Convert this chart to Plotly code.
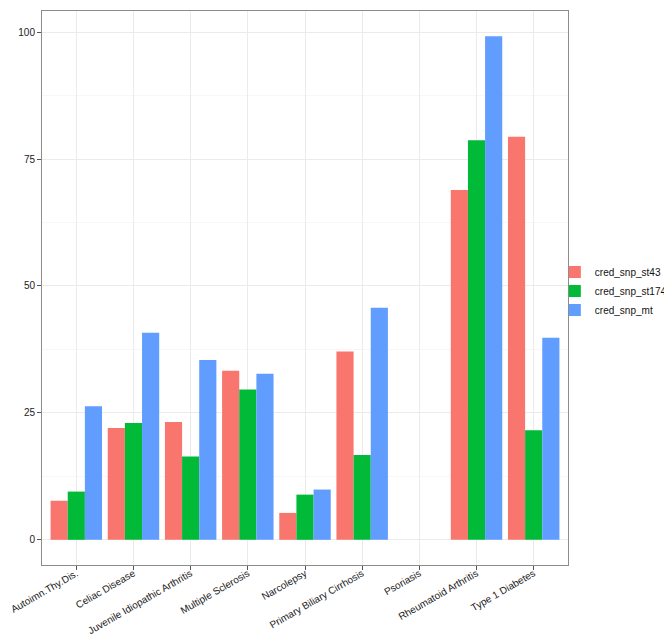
import plotly.graph_objects as go

categories = ["Autoimn.Thy.Dis.", "Celiac Disease", "Juvenile Idiopathic Arthritis",
              "Multiple Sclerosis", "Narcolepsy", "Primary Biliary Cirrhosis",
              "Psoriasis", "Rheumatoid Arthritis", "Type 1 Diabetes"]
cred_snp_st43 = [7.7, 22.0, 23.2, 33.3, 5.3, 37.1, 0, 68.9, 79.4]
cred_snp_st174 = [9.5, 23.0, 16.4, 29.6, 8.9, 16.7, 0, 78.7, 21.6]
cred_snp_mt = [26.3, 40.8, 35.4, 32.7, 9.9, 45.7, 0, 99.2, 39.8]
series_names = ["cred_snp_st43", "cred_snp_st174", "cred_snp_mt"]
series_colors = ["#F8766D", "#00BA38", "#619CFF"]
y_ticks = [0, 25, 50, 75, 100]

fig = go.Figure()
for name, vals, col in zip(series_names, [cred_snp_st43, cred_snp_st174, cred_snp_mt], series_colors):
    fig.add_trace(go.Bar(x=categories, y=vals, name=name, marker_color=col,
                         marker_line_width=0))

fig.update_layout(
    width=672, height=635,
    margin=dict(l=34, r=112, t=3, b=78, autoexpand=False),
    barmode="group", bargap=0.1, bargroupgap=0,
    plot_bgcolor="white", paper_bgcolor="white",
    font=dict(family="Liberation Sans, Arial, sans-serif", size=10, color="#222222"),
    legend=dict(x=0.975, y=0.4946, xanchor="left", yanchor="middle",
                font=dict(size=10, color="#111111"), tracegroupgap=0,
                itemwidth=30, bgcolor="rgba(0,0,0,0)", borderwidth=0),
    showlegend=True,
)
fig.update_xaxes(
    range=[-0.6, 8.6], automargin=False,
    tickangle=-30, showgrid=True, gridcolor="#EBEBEB", gridwidth=1,
    showline=True, linecolor="#8C8C8C", linewidth=1, mirror=True,
    ticks="outside", ticklen=4, tickcolor="#555555",
    ticklabelstandoff=-6,
    tickfont=dict(size=10, color="#222222"),
)
fig.update_yaxes(
    range=[-4.96, 104.16], automargin=False,
    tickvals=y_ticks, ticktext=[str(v) for v in y_ticks],
    showgrid=True, gridcolor="#EBEBEB", gridwidth=1, zeroline=False,
    minor=dict(tickvals=[12.5, 37.5, 62.5, 87.5], showgrid=True, gridcolor="#F7F7F7", ticks=""),
    showline=True, linecolor="#8C8C8C", linewidth=1, mirror=True,
    ticks="outside", ticklen=4, tickcolor="#555555",
    tickfont=dict(size=10, color="#222222"),
)
fig.write_html("out.html")
